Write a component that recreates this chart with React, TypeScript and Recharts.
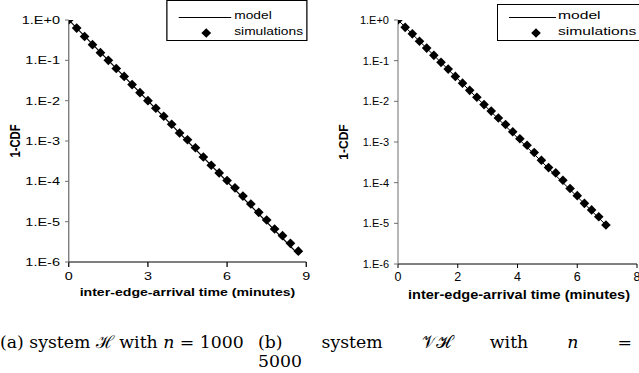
import { ComposedChart, Line, Scatter, XAxis, YAxis, Legend, Label } from "recharts";

const timesA = [0, 0.3, 0.6, 0.9, 1.2, 1.5, 1.8, 2.1, 2.4, 2.7, 3, 3.3, 3.6, 3.9, 4.2, 4.5, 4.8, 5.1, 5.4, 5.7, 6, 6.3, 6.6, 6.9, 7.2, 7.5, 7.8, 8.1, 8.4, 8.7];
const simValuesA = [1, 0.63, 0.39, 0.245, 0.155, 0.1, 0.063, 0.04, 0.025, 0.0158, 0.01, 6.5e-3, 4.1e-3, 2.6e-3, 1.58e-3, 1.07e-3, 6.8e-4, 4.0e-4, 2.5e-4, 1.62e-4, 1.05e-4, 6.9e-5, 4.3e-5, 2.75e-5, 1.7e-5, 1.1e-5, 6.6e-6, 4.5e-6, 2.9e-6, 1.86e-6];
const modelTimesA = [0, 8.7];
const modelValuesA = [1, 1.55e-6];

const timesB = [0, 0.24, 0.48, 0.72, 0.96, 1.2, 1.44, 1.68, 1.92, 2.16, 2.4, 2.64, 2.88, 3.12, 3.36, 3.6, 3.84, 4.08, 4.32, 4.56, 4.8, 5.04, 5.28, 5.52, 5.76, 6, 6.24, 6.48, 6.72, 6.96];
const simValuesB = [1, 0.66, 0.457, 0.3, 0.204, 0.135, 0.091, 0.062, 0.041, 0.028, 0.0186, 0.0126, 8.3e-3, 5.75e-3, 3.9e-3, 2.7e-3, 1.78e-3, 1.2e-3, 8.3e-4, 5.5e-4, 3.55e-4, 2.35e-4, 1.74e-4, 1.15e-4, 7.2e-5, 4.8e-5, 3.1e-5, 2.14e-5, 1.45e-5, 9.1e-6];
const modelTimesB = [0, 6.96];
const modelValuesB = [1, 9.1e-6];

const yTicks = [1, 0.1, 0.01, 0.001, 1e-4, 1e-5, 1e-6];
const yTickLabels = ["1.E+0", "1.E-1", "1.E-2", "1.E-3", "1.E-4", "1.E-5", "1.E-6"];
const xTicksA = [0, 3, 6, 9];
const xTicksB = [0, 2, 4, 6, 8];

const seriesNames = ["model", "simulations"];
const yTitle = "1-CDF";
const xTitle = "inter-edge-arrival time (minutes)";

const SANS = "'Liberation Sans', Arial, sans-serif";

const toPoints = (ts: number[], vs: number[]) => ts.map((t, i) => ({ t, p: vs[i] }));

const diamond = (rx: number, ry: number) => (p: any) =>
  p.cx == null ? <g /> : (
    <path
      d={`M${p.cx},${p.cy - ry}L${p.cx + rx},${p.cy}L${p.cx},${p.cy + ry}L${p.cx - rx},${p.cy}Z`}
      fill="#000"
    />
  );

function LegendBox({ payload, cfg }: any) {
  const items = payload || [];
  return (
    <div
      style={{
        position: "relative",
        width: cfg.w,
        height: cfg.h,
        border: "1px solid #000",
        boxSizing: "border-box",
        background: "#fff",
        fontFamily: SANS,
        fontSize: cfg.fs,
        color: "#000",
      }}
    >
      {items.map((e: any) => {
        const isLine = e.type === "line";
        const cy = isLine ? cfg.row0 : cfg.row1;
        return (
          <div key={e.value}>
            {isLine ? (
              <div style={{ position: "absolute", left: cfg.lineX0, width: cfg.lineX1 - cfg.lineX0, top: cy, height: 1, background: "#000" }} />
            ) : (
              <svg style={{ position: "absolute", left: cfg.markX - 6, top: cy - 6 }} width={12} height={12}>
                <path d={`M6,${6 - cfg.mry}L${6 + cfg.mrx},6L6,${6 + cfg.mry}L${6 - cfg.mrx},6Z`} fill="#000" />
              </svg>
            )}
            <span
              style={{
                position: "absolute",
                left: cfg.textX,
                top: cy - cfg.fs * 0.55,
                lineHeight: 1,
                whiteSpace: "nowrap",
                transform: `scaleX(${cfg.textScale})`,
                transformOrigin: "0 0",
              }}
            >
              {e.value}
            </span>
          </div>
        );
      })}
    </div>
  );
}

function Panel({ cfg, sim, model, xTicks }: any) {
  const tickFmt = (v: number) => yTickLabels[yTicks.indexOf(v)] ?? "";
  return (
    <ComposedChart width={cfg.width} height={cfg.height} margin={cfg.margin}>
      <XAxis
        type="number"
        dataKey="t"
        domain={[xTicks[0], xTicks[xTicks.length - 1]]}
        ticks={xTicks}
        allowDataOverflow
        height={cfg.xAxisHeight}
        stroke="#000"
        tickSize={cfg.xTickSize}
        tickMargin={cfg.xTickMargin}
        tick={{ fill: "#000", fontSize: cfg.xTickFs, fontFamily: SANS }}
        interval={0}
      >
        <Label
          content={(p: any) => {
            const vb = p.viewBox || { x: 0, y: 0, width: 0, height: 0 };
            return (
              <text
                x={vb.x + vb.width / 2 + cfg.xTitleDx}
                y={vb.y + cfg.xTitleDy}
                textAnchor="middle"
                fontFamily={SANS}
                fontWeight="bold"
                fontSize={cfg.xTitleFs}
                fill="#000"
                {...(cfg.xTitleLen ? { textLength: cfg.xTitleLen, lengthAdjust: "spacingAndGlyphs" } : {})}
              >
                {xTitle}
              </text>
            );
          }}
        />
      </XAxis>
      <YAxis
        type="number"
        dataKey="p"
        scale="log"
        domain={[1e-6, 1]}
        ticks={yTicks}
        allowDataOverflow
        interval={0}
        width={cfg.yAxisWidth}
        stroke="#6e6e6e"
        tickSize={cfg.yTickSize}
        tickMargin={cfg.yTickMargin}
        tickFormatter={tickFmt}
        tick={{ fill: "#000", fontSize: cfg.yTickFs, fontFamily: SANS }}
      >
        <Label
          content={(p: any) => {
            const vb = p.viewBox || { x: 0, y: 0, width: 0, height: 0 };
            const cx = cfg.yTitleX;
            const cy = vb.y + vb.height / 2;
            return (
              <text
                x={cx}
                y={cy}
                transform={`rotate(-90 ${cx} ${cy})`}
                textAnchor="middle"
                dominantBaseline="central"
                fontFamily={SANS}
                fontWeight="bold"
                fontSize={cfg.yTitleFs}
                fill="#000"
              >
                {yTitle}
              </text>
            );
          }}
        />
      </YAxis>
      <Legend
        layout="vertical"
        align="center"
        verticalAlign="middle"
        wrapperStyle={{ position: "absolute", left: cfg.legend.left, top: cfg.legend.top, width: cfg.legend.w, height: cfg.legend.h, margin: 0 }}
        content={(p: any) => <LegendBox payload={p.payload} cfg={cfg.legend} />}
      />
      <Line
        data={model}
        dataKey="p"
        name={seriesNames[0]}
        legendType="line"
        stroke="#000"
        strokeWidth={1}
        dot={false}
        activeDot={false}
        isAnimationActive={false}
      />
      <Scatter
        data={sim}
        dataKey="p"
        name={seriesNames[1]}
        legendType="diamond"
        fill="#000"
        shape={diamond(cfg.mrx, cfg.mry)}
        isAnimationActive={false}
      />
    </ComposedChart>
  );
}

const cfgA = {
  width: 256,
  height: 310,
  margin: { top: 20, right: 11, left: 0, bottom: 0 },
  xAxisHeight: 48,
  yAxisWidth: 55,
  xTickSize: 5,
  xTickMargin: 5,
  xTickFs: 11.5,
  yTickSize: 3,
  yTickMargin: 4,
  yTickFs: 11.6,
  xTitleFs: 11.3,
  xTitleDx: 0,
  xTitleDy: 34,
  xTitleLen: 0,
  yTitleX: 12,
  yTitleFs: 11.3,
  mrx: 3.9,
  mry: 4.8,
  legend: {
    left: 132.8, top: 0, w: 113, h: 41, fs: 11, textScale: 1,
    row0: 15.5, row1: 31.5, lineX0: 9.6, lineX1: 51.2, markX: 31.2, textX: 53.6, mrx: 3.9, mry: 4.8,
  },
};

const cfgB = {
  width: 319,
  height: 310,
  margin: { top: 20, right: 2, left: 0, bottom: 0 },
  xAxisHeight: 46,
  yAxisWidth: 78,
  xTickSize: 4,
  xTickMargin: 4,
  xTickFs: 12.5,
  yTickSize: 4,
  yTickMargin: 5,
  yTickFs: 11,
  xTitleFs: 12,
  xTitleDx: 1.5,
  xTitleDy: 35,
  xTitleLen: 222,
  yTitleX: 23.5,
  yTitleFs: 12,
  mrx: 4.8,
  mry: 4.8,
  legend: {
    left: 177, top: 4, w: 160, h: 37, fs: 11.5, textScale: 1.36,
    row0: 11.5, row1: 27.5, lineX0: 11, lineX1: 58, markX: 38, textX: 60, mrx: 4.8, mry: 4.8,
  },
};

const captionStyle: any = {
  position: "absolute",
  fontFamily: "'DejaVu Serif', 'Liberation Serif', serif",
  fontSize: 17.3,
  lineHeight: "19px",
  color: "#000",
  whiteSpace: "nowrap",
};

export default function App() {
  return (
    <div style={{ position: "absolute", left: 0, top: 0, width: 639, height: 373, background: "#fff", overflow: "hidden" }}>
      <div style={{ position: "absolute", left: 0, top: 0, transform: "scaleX(1.25)", transformOrigin: "0 0" }}>
        <Panel cfg={cfgA} sim={toPoints(timesA, simValuesA)} model={toPoints(modelTimesA, modelValuesA)} xTicks={xTicksA} />
      </div>
      <div style={{ position: "absolute", left: 320, top: 0 }}>
        <Panel cfg={cfgB} sim={toPoints(timesB, simValuesB)} model={toPoints(modelTimesB, modelValuesB)} xTicks={xTicksB} />
      </div>
      <div style={{ ...captionStyle, left: 0, top: 333 }}>
        (a) system ℋ with <i>n</i> = 1000
      </div>
      <div style={{ ...captionStyle, left: 258, top: 333, width: 374, textAlign: "justify", textAlignLast: "justify" }}>
        (b) system 𝒱ℋ with <i>n</i> =
      </div>
      <div style={{ ...captionStyle, left: 258, top: 352 }}>5000</div>
    </div>
  );
}
